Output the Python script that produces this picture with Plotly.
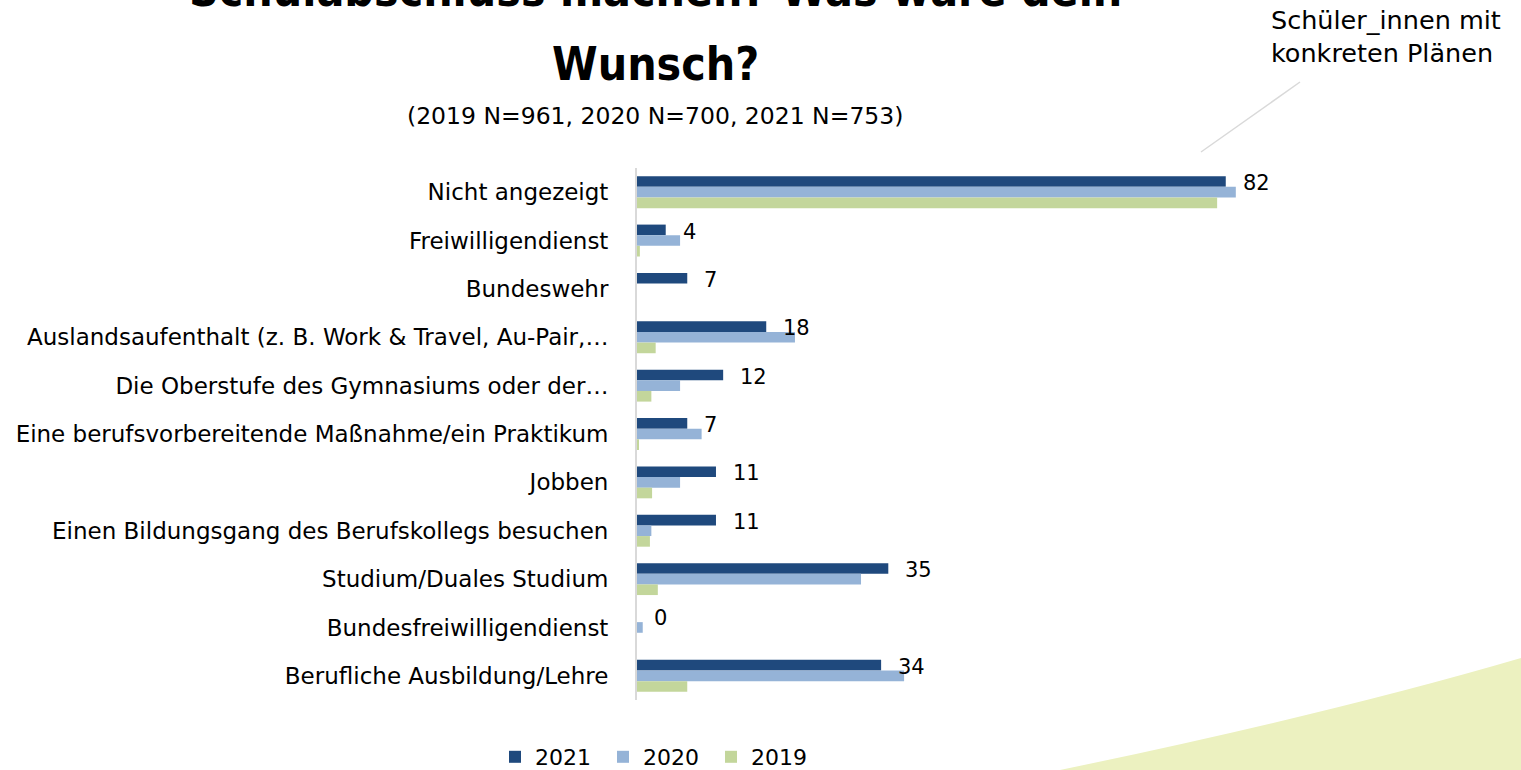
import plotly.graph_objects as go

categories = [
    "Nicht angezeigt",
    "Freiwilligendienst",
    "Bundeswehr",
    "Auslandsaufenthalt (z. B. Work & Travel, Au-Pair,…",
    "Die Oberstufe des Gymnasiums oder der…",
    "Eine berufsvorbereitende Maßnahme/ein Praktikum",
    "Jobben",
    "Einen Bildungsgang des Berufskollegs besuchen",
    "Studium/Duales Studium",
    "Bundesfreiwilligendienst",
    "Berufliche Ausbildung/Lehre",
]
values_2021 = [82, 4, 7, 18, 12, 7, 11, 11, 35, 0, 34]
values_2020 = [83.4, 6, None, 22, 6, 9, 6, 2, 31.2, 0.8, 37.2]
values_2019 = [80.8, 0.4, None, 2.6, 2, 0.2, 2.1, 1.8, 2.9, None, 7]

series_names = ["2021", "2020", "2019"]
colors = ["#1f497d", "#95b3d7", "#c3d69b"]

title_line1 = "Schulabschluss machen? Was wäre dein"
title_line2 = "Wunsch?"
subtitle = "(2019 N=961, 2020 N=700, 2021 N=753)"
callout = "Schüler_innen mit<br>konkreten Plänen"

W, H = 1521, 770
L, R, T, B = 637, 1300, 168, 700
PW, PH = R - L, B - T
scale = 7.18  # px per unit
xmax = PW / scale


def px(x):
    return (x - L) / PW


def py(y):
    return (B - y) / PH


FONT = "DejaVu Sans"

fig = go.Figure()
for name, vals, col in zip(series_names, [values_2021, values_2020, values_2019], colors):
    fig.add_trace(go.Bar(
        y=categories, x=vals, name=name, orientation="h",
        marker=dict(color=col, line=dict(width=0)),
    ))

annotations = []
for cat, v in zip(categories, values_2021):
    annotations.append(dict(
        x=v, y=cat, xref="x", yref="y", text=str(v), showarrow=False,
        xanchor="left", yanchor="middle", xshift=15, yshift=9,
        font=dict(family=FONT, size=21, color="#000000"),
    ))

annotations += [
    dict(x=px(655), y=py(-10), xref="paper", yref="paper", text=title_line1, showarrow=False,
         xanchor="center", yanchor="middle",
         font=dict(family="DejaVu Sans Condensed, DejaVu Sans", size=46, color="#000000", weight="bold")),
    dict(x=px(655), y=py(64), xref="paper", yref="paper", text=title_line2, showarrow=False,
         xanchor="center", yanchor="middle",
         font=dict(family="DejaVu Sans Condensed, DejaVu Sans", size=46, color="#000000", weight="bold")),
    dict(x=px(655), y=py(116), xref="paper", yref="paper", text=subtitle, showarrow=False,
         xanchor="center", yanchor="middle",
         font=dict(family=FONT, size=23.5, color="#000000")),
    dict(x=px(1269), y=py(37), xref="paper", yref="paper", text=callout, showarrow=False,
         xanchor="left", yanchor="middle", align="left",
         font=dict(family=FONT, size=25.5, color="#000000")),
]

shapes = [
    dict(type="path", xref="paper", yref="paper", layer="below",
         path=f"M {px(1060)} {py(770)} Q {px(1330)} {py(714)} {px(1521)} {py(658)} "
              f"L {px(1540)} {py(652)} L {px(1540)} {py(790)} L {px(1040)} {py(790)} Z",
         fillcolor="#ecf1c0", line=dict(width=0)),
    dict(type="line", xref="paper", yref="paper",
         x0=px(1300), y0=py(82), x1=px(1201), y1=py(152),
         line=dict(color="#d9d9d9", width=1.5)),
]

fig.update_layout(
    width=W, height=H,
    margin=dict(l=L, r=W - R, t=T, b=H - B, autoexpand=False),
    paper_bgcolor="white", plot_bgcolor="rgba(0,0,0,0)",
    barmode="group", bargap=0.34, bargroupgap=0,
    font=dict(family=FONT, size=22, color="#000000"),
    showlegend=True,
    legend=dict(orientation="h", x=px(657), y=py(757), xanchor="center", yanchor="middle",
                font=dict(family=FONT, size=22, color="#000000"), traceorder="normal",
                entrywidth=63, entrywidthmode="pixels",
                bgcolor="rgba(0,0,0,0)"),
    annotations=annotations,
    shapes=shapes,
)
fig.update_xaxes(range=[0, xmax], showgrid=False, zeroline=False, showticklabels=False,
                 showline=False, ticks="")
fig.update_yaxes(autorange="reversed", showgrid=False, zeroline=False, showline=True,
                 linecolor="#d9d9d9", linewidth=2, ticks="", ticklabelstandoff=22,
                 tickfont=dict(family=FONT, size=23, color="#000000"))

fig.write_html(
    "out.html",
    config={"displayModeBar": False},
    post_script="document.body.style.margin='0';document.body.style.overflow='hidden';",
)
